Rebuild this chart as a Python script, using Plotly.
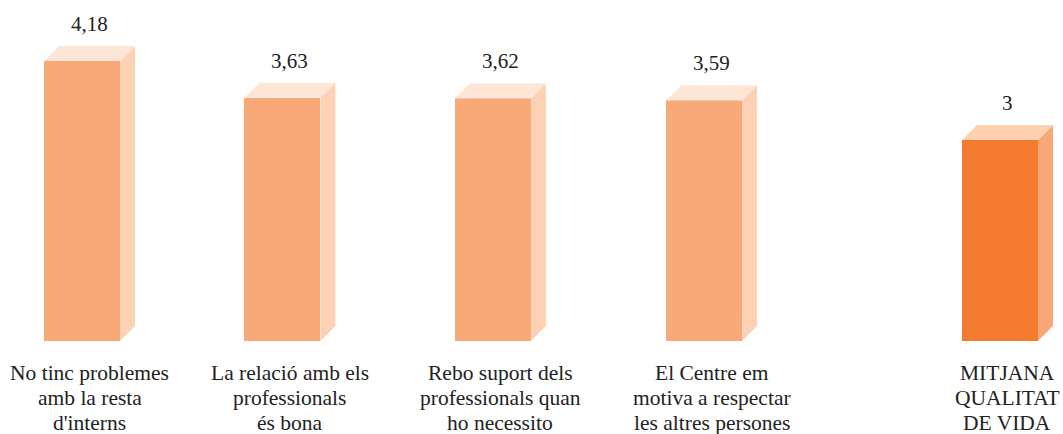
import plotly.graph_objects as go

category_lines = [
    ["No tinc problemes", "amb la resta", "d'interns"],
    ["La relació amb els", "professionals", "és bona"],
    ["Rebo suport dels", "professionals quan", "ho necessito"],
    ["El Centre em", "motiva a respectar", "les altres persones"],
    ["MITJANA", "QUALITAT", "DE VIDA"],
]
values = [4.18, 3.63, 3.62, 3.59, 3.0]
positions = [0, 0.952, 1.952, 2.955, 4.361]

front_colors = ["#F7AA78", "#F7AA78", "#F7AA78", "#F7AA78", "#F47A30"]
side_colors = ["#FDD2B4", "#FDD2B4", "#FDD2B4", "#FDD2B4", "#F8A878"]
top_colors = ["#FEE6D6", "#FEE6D6", "#FEE6D6", "#FEE6D6", "#FDD0B0"]

W, H = 1063, 434
px_per_x = 210.5
px_per_y = 67.0
base_px = 341          # page y of the baseline
x0_px = 82             # page x of position 0
x_min = -x0_px / px_per_x
x_max = (W - x0_px) / px_per_x
y_max = base_px / px_per_y

bar_w = 76 / px_per_x
dx = 15 / px_per_x
dy = 15 / px_per_y

fig = go.Figure()

for i, (x, v) in enumerate(zip(positions, values)):
    xl, xr = x - bar_w / 2, x + bar_w / 2
    fig.add_trace(go.Scatter(
        x=[xr, xr + dx, xr + dx, xr, xr], y=[0, dy, v + dy, v, 0],
        fill="toself", fillcolor=side_colors[i], mode="lines",
        line=dict(width=0, color=side_colors[i]), hoverinfo="skip", showlegend=False))
    fig.add_trace(go.Scatter(
        x=[xl, xl + dx, xr + dx, xr, xl], y=[v, v + dy, v + dy, v, v],
        fill="toself", fillcolor=top_colors[i], mode="lines",
        line=dict(width=0, color=top_colors[i]), hoverinfo="skip", showlegend=False))

fig.add_trace(go.Bar(
    x=positions, y=values, width=bar_w,
    marker=dict(color=front_colors, line=dict(width=0)),
    showlegend=False, hoverinfo="skip"))

FONT = "Liberation Serif"
for i, (x, v) in enumerate(zip(positions, values)):
    label = ("%g" % v).replace(".", ",")
    fig.add_annotation(x=x + dx / 2, y=v + dy, text=label, showarrow=False,
                       yanchor="middle", yshift=22,
                       font=dict(family=FONT, size=21, color="#222222"))
    for j, line in enumerate(category_lines[i]):
        fig.add_annotation(x=x + dx / 2, y=0, text=line, showarrow=False,
                           yanchor="middle", yshift=-(32 + 25 * j),
                           font=dict(family=FONT, size=21.5, color="#222222"))

fig.update_layout(
    width=W, height=H,
    margin=dict(l=0, r=0, t=0, b=H - base_px),
    plot_bgcolor="white", paper_bgcolor="white",
    xaxis=dict(range=[x_min, x_max], visible=False, fixedrange=True),
    yaxis=dict(range=[0, y_max], visible=False, fixedrange=True),
    bargap=0,
    hovermode=False,
)

fig.write_html(
    "out.html",
    config={"displayModeBar": False, "staticPlot": True},
    post_script=(
        "document.body.style.margin='0';"
        "document.body.style.overflow='hidden';"
        "document.documentElement.style.overflow='hidden';"
    ),
)
